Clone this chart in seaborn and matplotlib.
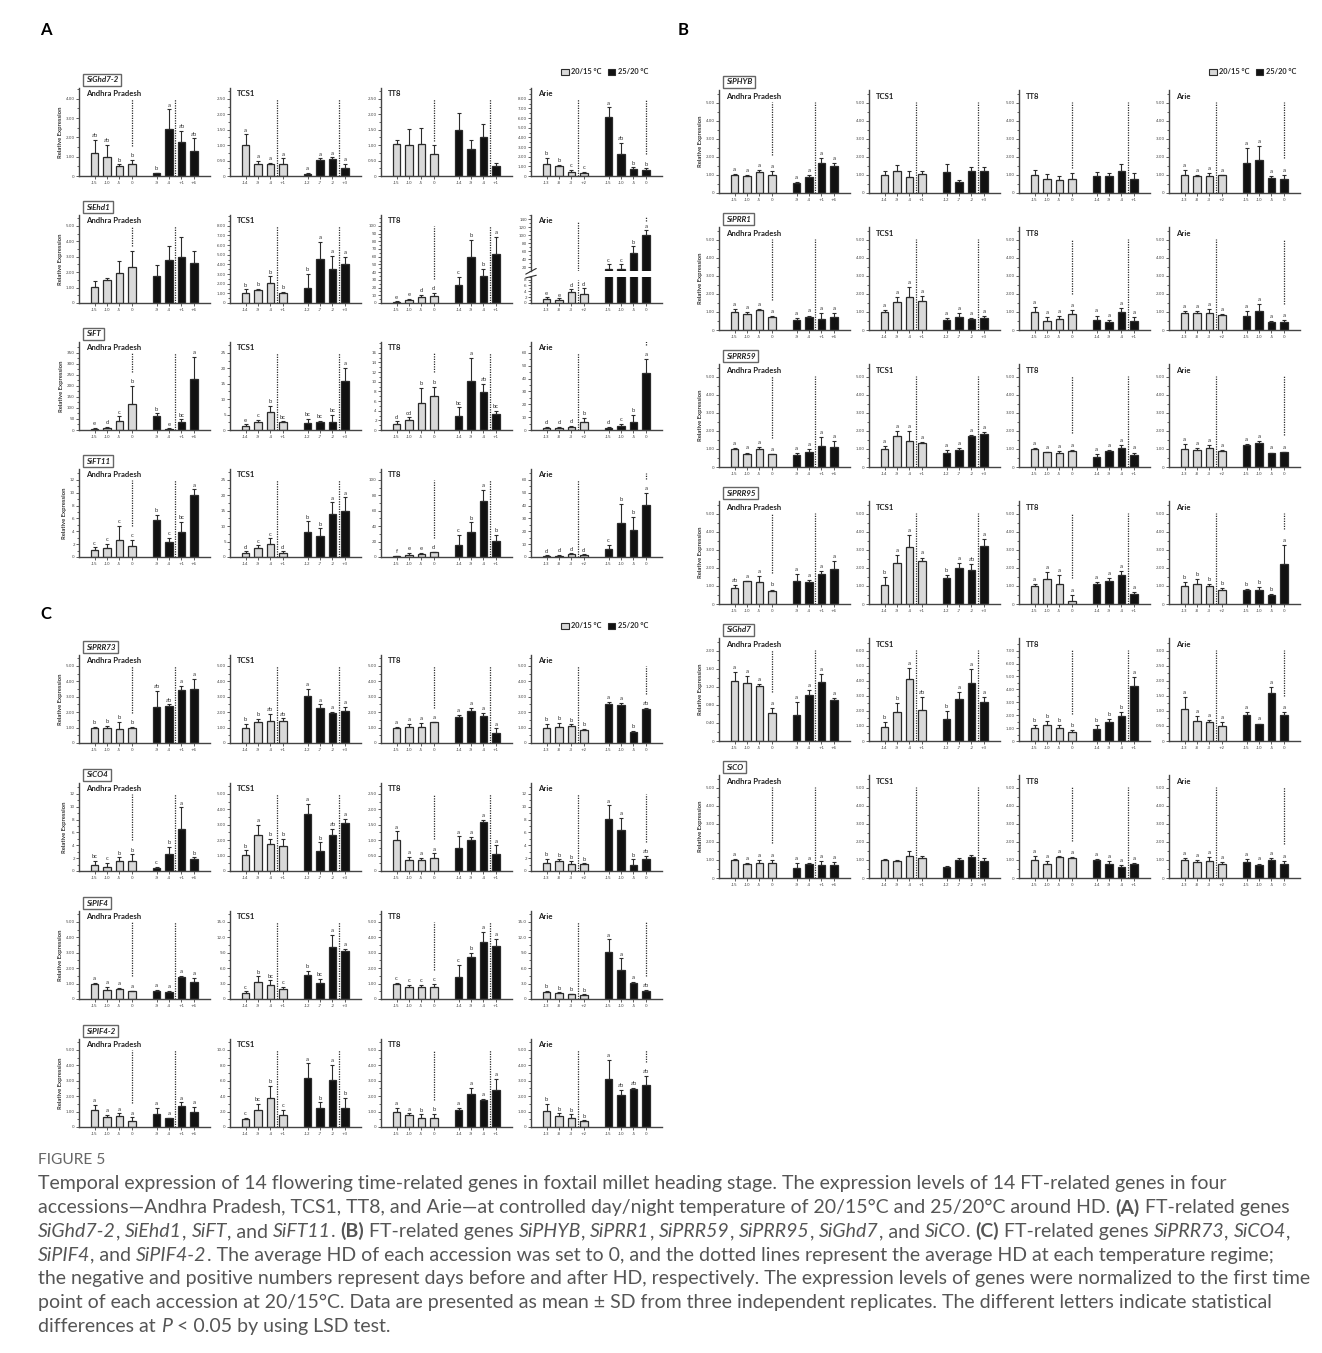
import numpy as np
import pandas as pd
import matplotlib.pyplot as plt
import seaborn as sns
from matplotlib.patches import Patch
from matplotlib.ticker import AutoMinorLocator

# ---------------- data ----------------
LOW, HIGH = "20/15 °C", "25/20 °C"
ACCESSIONS = ["Andhra Pradesh", "TCS1", "TT8", "Arie"]
AP_DAYS = ["-15", "-10", "-5", "0", "-9", "-4", "+1", "+6"]
TCS1_DAYS = ["-14", "-9", "-4", "+1", "-12", "-7", "-2", "+3"]
TT8_DAYS = ["-15", "-10", "-5", "0", "-14", "-9", "-4", "+1"]
ARIE_DAYS = ["-13", "-8", "-3", "+2", "-15", "-10", "-5", "0"]
DAYS = [AP_DAYS, TCS1_DAYS, TT8_DAYS, ARIE_DAYS]

NOSIG = [""] * 8
ALL_A = ["a"] * 8

# each gene: mean, top of error bar (mean + SD), letters; rows = AP, TCS1, TT8, Arie
# axis = (highest tick, tick step, decimals)
ghd72_mean = [[1.18, 0.98, 0.50, 0.60, 0.13, 2.45, 1.75, 1.30],
              [1.00, 0.38, 0.38, 0.38, 0.06, 0.53, 0.55, 0.27],
              [1.04, 1.00, 1.05, 0.70, 1.48, 0.88, 1.27, 0.33],
              [1.20, 1.05, 0.45, 0.35, 6.15, 2.25, 0.70, 0.58]]
ghd72_top = [[1.88, 1.60, 0.60, 0.85, 0.18, 3.45, 2.32, 1.95],
             [1.35, 0.50, 0.42, 0.57, 0.10, 0.57, 0.60, 0.40],
             [1.18, 1.53, 1.57, 1.00, 2.05, 1.15, 1.67, 0.43],
             [1.90, 1.15, 0.60, 0.45, 7.10, 3.40, 0.90, 0.80]]
ghd72_sig = [["ab", "ab", "b", "b", "b", "a", "ab", "ab"], ALL_A, NOSIG,
             ["b", "b", "c", "c", "a", "ab", "b", "b"]]
ghd72_axis = [(4, 1, 2), (2.5, 0.5, 2), (2.5, 0.5, 2), (8, 1, 2)]

ehd1_mean = [[1.05, 1.52, 1.95, 2.35, 1.72, 2.80, 3.00, 2.60],
             [1.00, 1.30, 2.05, 1.00, 1.60, 4.60, 3.55, 4.05],
             [1.0, 3.5, 7.5, 8.5, 23, 60, 35.5, 64],
             [1.3, 1.1, 3.6, 3.2, 17, 17, 57, 102]]
ehd1_top = [[1.40, 1.60, 2.70, 3.40, 2.45, 3.72, 4.25, 3.35],
            [1.40, 1.45, 2.75, 1.15, 3.05, 6.30, 4.90, 4.75],
            [2, 5, 11, 13, 34, 82, 44, 86],
            [2.2, 1.6, 4.8, 5.2, 28, 28, 74, 114]]
ehd1_sig = [NOSIG, ["b", "b", "b", "b", "b", "a", "a", "a"],
            ["e", "e", "d", "d", "c", "b", "b", "a"],
            ["e", "e", "d", "d", "c", "c", "b", "a"]]
ehd1_axis = [(5, 1, 2), (8, 1, 2), (100, 10, 0), (140, 20, 0)]
ehd1_arie_lower = (8, 2, 0)

ft_mean = [[5, 8, 43, 117, 63, 5, 37, 230],
           [1.2, 2.5, 5.8, 2.5, 2.3, 2.7, 2.7, 16],
           [1.2, 2.1, 5.5, 7.0, 3.0, 10.2, 7.8, 3.4],
           [1.5, 1.5, 2.5, 6, 1.5, 3, 6, 44]]
ft_top = [[8, 13, 62, 200, 75, 7, 48, 330],
          [1.8, 3.2, 7.8, 2.8, 3.6, 3.0, 4.8, 20],
          [1.8, 2.6, 8.8, 9.0, 4.7, 15, 9.5, 4.0],
          [2.2, 2.2, 3, 9.5, 2.2, 5, 12, 55]]
ft_sig = [["e", "d", "c", "b", "b", "e", "bc", "a"],
          ["e", "c", "b", "bc", "bc", "bc", "bc", "a"],
          ["d", "cd", "b", "b", "bc", "a", "ab", "bc"],
          ["d", "d", "d", "b", "d", "c", "b", "a"]]
ft_axis = [(350, 50, 0), (25, 5, 0), (16, 2, 0), (60, 10, 0)]

ft11_mean = [[1.05, 1.4, 2.7, 1.7, 5.8, 2.35, 3.9, 9.6],
             [1.2, 3.0, 4.2, 1.3, 8.2, 6.7, 14, 15],
             [1, 3, 4, 6, 16, 33, 73, 21],
             [1, 1, 2, 1.5, 6.3, 26.5, 20.8, 40.5]]
ft11_top = [[1.5, 2.0, 4.8, 2.7, 6.5, 3.0, 5.5, 10.5],
            [1.8, 3.8, 6.0, 1.8, 11.5, 9.3, 17.7, 19.3],
            [1.5, 5, 5, 6.5, 29, 45, 87, 29],
            [1.3, 1.5, 2.8, 2, 9.6, 41.5, 31, 50]]
ft11_sig = [["c", "c", "c", "c", "b", "c", "bc", "a"],
            ["d", "c", "c", "d", "b", "b", "a", "a"],
            ["f", "e", "e", "d", "c", "b", "a", "b"],
            ["d", "d", "d", "d", "c", "b", "b", "a"]]
ft11_axis = [(12, 2, 0), (25, 5, 0), (100, 20, 0), (60, 10, 0)]

phyb_mean = [[1.0, 0.93, 1.17, 1.02, 0.58, 0.9, 1.67, 1.48],
             [1.02, 1.22, 0.9, 1.07, 1.15, 0.62, 1.2, 1.2],
             [0.98, 0.8, 0.72, 0.8, 0.95, 0.93, 1.23, 0.8],
             [1.02, 0.92, 0.95, 0.97, 1.68, 1.8, 0.85, 0.78]]
phyb_top = [[1.05, 1.0, 1.25, 1.2, 0.62, 1.02, 1.95, 1.65],
            [1.2, 1.55, 1.2, 1.2, 1.6, 0.7, 1.42, 1.43],
            [1.25, 1.05, 0.93, 1.1, 1.17, 1.08, 1.62, 1.1],
            [1.28, 1.0, 1.08, 1.0, 2.5, 2.62, 0.95, 1.0]]
phyb_sig = [ALL_A, NOSIG, NOSIG, ALL_A]
phyb_axis = [(5, 1, 2)] * 4

prr1_mean = [[1.0, 0.88, 1.08, 0.7, 0.58, 0.72, 0.6, 0.73],
             [1.0, 1.55, 1.82, 1.6, 0.58, 0.73, 0.6, 0.65],
             [1.0, 0.5, 0.6, 0.9, 0.55, 0.47, 1.0, 0.52],
             [0.95, 0.92, 0.95, 0.82, 0.78, 1.05, 0.47, 0.45]]
prr1_top = [[1.15, 1.0, 1.15, 0.75, 0.65, 0.8, 0.95, 0.95],
            [1.12, 1.83, 2.4, 1.88, 0.65, 0.93, 0.65, 0.75],
            [1.28, 0.7, 0.75, 1.1, 0.8, 0.55, 1.22, 0.7],
            [1.07, 1.05, 1.15, 0.88, 1.05, 1.45, 0.5, 0.55]]
prr1_sig = [ALL_A, ALL_A, ALL_A, ALL_A]
prr1_axis = [(5, 1, 2)] * 4

prr59_mean = [[1.0, 0.72, 0.98, 0.7, 0.67, 0.85, 1.18, 1.1],
              [1.0, 1.72, 1.45, 1.35, 0.75, 0.92, 1.7, 1.8],
              [1.0, 0.82, 0.8, 0.9, 0.58, 0.9, 1.05, 0.65],
              [1.0, 0.95, 1.05, 0.9, 1.2, 1.35, 0.75, 0.82]]
prr59_top = [[1.03, 0.8, 1.12, 0.72, 0.77, 0.98, 1.65, 1.45],
             [1.15, 1.98, 2.0, 1.4, 0.93, 1.05, 1.78, 1.92],
             [1.03, 0.85, 0.88, 0.95, 0.7, 0.93, 1.2, 0.8],
             [1.27, 1.03, 1.2, 0.95, 1.28, 1.45, 0.8, 0.85]]
prr59_sig = [ALL_A, ALL_A, ALL_A, ALL_A]
prr59_axis = [(5, 1, 2)] * 4

prr95_mean = [[0.9, 1.25, 1.22, 0.7, 1.27, 1.22, 1.65, 1.92],
              [1.07, 2.27, 3.15, 2.38, 1.42, 2.0, 1.88, 3.2],
              [1.0, 1.4, 1.13, 0.15, 1.08, 1.3, 1.6, 0.55],
              [1.0, 1.1, 1.0, 0.77, 0.77, 0.8, 0.48, 2.22]]
prr95_top = [[1.07, 1.28, 1.55, 0.8, 1.68, 1.35, 1.8, 2.38],
             [1.48, 2.72, 3.8, 2.57, 1.6, 2.28, 2.22, 3.62],
             [1.08, 1.75, 1.58, 0.52, 1.2, 1.42, 1.85, 0.68],
             [1.2, 1.4, 1.12, 0.9, 0.85, 0.95, 0.57, 3.25]]
prr95_sig = [["ab", "a", "a", "b", "a", "a", "a", "a"],
             ["b", "a", "a", "a", "b", "a", "ab", "a"],
             ALL_A,
             ["b", "b", "b", "b", "b", "b", "b", "a"]]
prr95_axis = [(5, 1, 2)] * 4

ghd7_mean = [[1.33, 1.28, 1.21, 0.62, 0.58, 1.02, 1.3, 0.91],
             [0.95, 1.92, 4.15, 2.05, 1.45, 2.8, 3.87, 2.6],
             [1.0, 1.22, 0.97, 0.7, 0.95, 1.48, 1.95, 4.27],
             [1.05, 0.67, 0.63, 0.5, 0.85, 0.57, 1.6, 0.87]]
ghd7_top = [[1.52, 1.44, 1.27, 0.72, 0.86, 1.12, 1.48, 0.95],
            [1.25, 2.55, 4.85, 2.92, 2.02, 3.25, 4.8, 2.95],
            [1.25, 1.52, 1.22, 0.85, 1.25, 1.72, 2.25, 4.98],
            [1.45, 0.82, 0.7, 0.62, 0.95, 0.58, 1.78, 0.95]]
ghd7_sig = [ALL_A,
            ["b", "b", "a", "ab", "b", "a", "a", "a"],
            ["b", "b", "b", "b", "b", "b", "b", "a"],
            ALL_A]
ghd7_axis = [(2.0, 0.4, 2), (6, 1, 2), (7, 1, 2), (3, 0.5, 2)]

co_mean = [[1.0, 0.75, 0.85, 0.85, 0.55, 0.75, 0.72, 0.7],
           [1.02, 0.95, 1.2, 1.1, 0.6, 1.02, 1.15, 0.95],
           [1.0, 0.78, 1.15, 1.1, 1.0, 0.8, 0.62, 0.78],
           [1.0, 0.88, 0.92, 0.8, 0.9, 0.72, 1.0, 0.75]]
co_top = [[1.05, 0.82, 1.0, 1.0, 0.85, 0.85, 0.95, 0.9],
          [1.05, 1.0, 1.5, 1.2, 0.65, 1.08, 1.25, 1.1],
          [1.2, 0.95, 1.2, 1.15, 1.05, 0.95, 0.7, 0.85],
          [1.1, 0.98, 1.15, 0.88, 1.05, 0.8, 1.1, 0.95]]
co_sig = [ALL_A, NOSIG, ALL_A, ALL_A]
co_axis = [(5, 1, 2)] * 4

prr73_mean = [[1.0, 1.0, 0.88, 0.95, 2.32, 2.4, 3.42, 3.48],
              [1.0, 1.33, 1.45, 1.4, 3.03, 2.27, 1.92, 2.1],
              [1.0, 1.03, 1.05, 1.33, 1.68, 2.1, 1.72, 0.62],
              [1.0, 1.05, 1.08, 0.85, 2.5, 2.48, 0.73, 2.22]]
prr73_top = [[1.05, 1.1, 1.35, 1.05, 3.38, 2.5, 3.7, 4.15],
             [1.22, 1.55, 1.9, 1.6, 3.5, 2.5, 2.0, 2.35],
             [1.02, 1.22, 1.3, 1.38, 1.83, 2.28, 1.95, 0.95],
             [1.25, 1.3, 1.2, 0.9, 2.68, 2.6, 0.78, 2.28]]
prr73_sig = [["b", "b", "b", "b", "ab", "ab", "a", "a"],
             ["b", "b", "ab", "ab", "a", "a", "a", "a"],
             ALL_A,
             ["b", "b", "b", "b", "a", "a", "b", "ab"]]
prr73_axis = [(5, 1, 2)] * 4

co4_mean = [[0.9, 0.65, 1.55, 1.6, 0.42, 2.65, 6.6, 1.8],
            [1.05, 2.35, 1.72, 1.62, 3.7, 1.32, 2.33, 3.1],
            [1.02, 0.37, 0.37, 0.42, 0.75, 1.0, 1.6, 0.55],
            [1.3, 1.6, 1.05, 1.05, 8.1, 6.3, 0.9, 1.85]]
co4_top = [[1.6, 1.3, 2.1, 2.6, 0.6, 3.7, 9.9, 2.1],
           [1.33, 3.0, 2.1, 2.1, 4.35, 1.85, 2.75, 3.38],
           [1.28, 0.45, 0.43, 0.57, 1.12, 1.1, 1.65, 0.83],
           [1.9, 1.8, 1.5, 1.2, 10.2, 8.3, 1.8, 2.3]]
co4_sig = [["bc", "c", "b", "b", "c", "b", "a", "b"],
           ["b", "a", "b", "b", "a", "b", "ab", "a"],
           ALL_A,
           ["b", "b", "b", "b", "a", "a", "b", "ab"]]
co4_axis = [(12, 2, 0), (5, 1, 2), (2.5, 0.5, 2), (12, 2, 0)]

pif4_mean = [[1.0, 0.6, 0.63, 0.5, 0.52, 0.48, 1.45, 1.07],
             [1.1, 3.3, 2.8, 2.0, 4.6, 3.2, 10.1, 9.4],
             [1.0, 0.8, 0.78, 0.78, 1.4, 2.7, 3.7, 3.45],
             [1.4, 1.1, 0.9, 0.8, 9.2, 5.6, 3.2, 1.6]]
pif4_top = [[1.05, 0.78, 0.72, 0.55, 0.58, 0.55, 1.5, 1.38],
            [1.5, 4.4, 3.6, 2.4, 5.5, 3.9, 12.4, 9.7],
            [1.02, 0.9, 0.9, 0.97, 2.2, 3.0, 4.35, 3.9],
            [1.6, 1.3, 1.0, 0.9, 11.6, 7.9, 3.4, 1.7]]
pif4_sig = [ALL_A,
            ["c", "b", "bc", "c", "b", "bc", "a", "a"],
            ["c", "c", "c", "c", "c", "b", "a", "a"],
            ["b", "b", "b", "b", "a", "a", "a", "ab"]]
pif4_axis = [(5, 1, 2), (15, 3, 1), (5, 1, 2), (15, 3, 1)]

pif42_mean = [[1.1, 0.62, 0.72, 0.42, 0.83, 0.57, 1.35, 1.0],
              [1.1, 2.2, 3.8, 1.55, 6.3, 2.5, 6.1, 2.45],
              [1.0, 0.8, 0.6, 0.58, 1.12, 2.15, 1.73, 2.42],
              [1.05, 0.72, 0.6, 0.38, 3.1, 2.05, 2.45, 2.7]]
pif42_top = [[1.43, 0.78, 0.88, 0.62, 1.25, 0.58, 1.6, 1.3],
             [1.2, 3.0, 5.3, 2.2, 8.25, 3.2, 8.0, 3.75],
             [1.23, 0.88, 0.82, 0.83, 1.25, 2.55, 1.8, 3.1],
             [1.48, 0.88, 0.82, 0.43, 4.35, 2.4, 2.55, 3.3]]
pif42_sig = [ALL_A,
             ["c", "bc", "b", "c", "a", "b", "a", "b"],
             ["a", "a", "b", "b", "a", "a", "a", "a"],
             ["b", "b", "b", "b", "a", "ab", "ab", "ab"]]
pif42_axis = [(5, 1, 2), (10, 2, 1), (5, 1, 2), (5, 1, 2)]

# ---------------- layout (pixels of the 1322 x 1353 image) ----------------
W, H = 1322, 1353
PALETTE = {LOW: "#d9d9d9", HIGH: "#111111"}
SLOTS = ["L0", "L1", "L2", "L3", "gap", "H0", "H1", "H2", "H3"]
XS = [0, 1, 2, 3, 5, 6, 7, 8]
INK = "#2b2b2b"
TICK_FONT = "DejaVu Sans"

sns.set_theme(style="ticks")
plt.rcParams["font.family"] = ["Lato", "DejaVu Sans"]

fig = plt.figure(figsize=(W / 100, H / 100), dpi=100)


def add_ax(left, bottom, width, height):
    return fig.add_axes([left / W, 1 - bottom / H, width / W, height / H])


def draw_bars(ax, mean, top, sig, lo, hi):
    df = pd.DataFrame({"slot": SLOTS[:4] + SLOTS[5:], "value": mean,
                       "regime": [LOW] * 4 + [HIGH] * 4})
    sns.barplot(data=df, x="slot", y="value", hue="regime", order=SLOTS,
                hue_order=[LOW, HIGH], palette=PALETTE, dodge=False, width=0.62,
                edgecolor=INK, linewidth=0.9, errorbar=None, legend=False, ax=ax)
    mean = np.array(mean, float)
    top = np.array(top, float)
    ax.errorbar(XS, mean, yerr=[np.zeros(8), top - mean], fmt="none",
                ecolor=INK, elinewidth=0.8, capsize=1.6, capthick=0.8)
    for x, t, s in zip(XS, top, sig):
        yy = t + 0.02 * (hi - lo)
        if s and lo <= yy <= hi:
            ax.text(x, yy, s, ha="center", va="bottom", fontsize=4.3, color="#333333")
    ax.set_ylim(lo, hi)
    ax.set_xlim(-1.25, 9.3)
    ax.set_xlabel("")
    ax.set_ylabel("")


def style_y(ax, ymax, step, dec, start=0):
    ticks = np.arange(start, ymax + step / 2, step)
    ax.set_yticks(ticks)
    ax.set_yticklabels(["0" if v == 0 else f"{v:.{dec}f}" for v in ticks],
                       fontfamily=TICK_FONT)
    ax.yaxis.set_minor_locator(AutoMinorLocator(2))
    ax.tick_params(axis="y", labelsize=3.0, length=2, width=0.6, pad=1, colors="#444444")
    ax.tick_params(axis="y", which="minor", length=1.2, width=0.5)
    for s in ["top", "right"]:
        ax.spines[s].set_visible(False)
    for s in ["left", "bottom"]:
        ax.spines[s].set_linewidth(1.0)
        ax.spines[s].set_color("#444444")


def style_x(ax, days):
    ax.set_xticks(XS)
    ax.set_xticklabels(days, fontfamily=TICK_FONT)
    ax.tick_params(axis="x", labelsize=3.0, length=2, width=0.6, pad=1.5, colors="#444444")


def hd_lines(ax, days, top, sig, lo, hi, full_from=0):
    line_top = lo + 0.88 * (hi - lo)
    for part in (slice(0, 4), slice(4, 8)):
        d = [int(v) for v in days[part]]
        xs = XS[part]
        tp = top[part]
        sg = sig[part]
        if 0 in d:
            i = d.index(0)
            y0 = tp[i] + (0.16 if sg[i] else 0.05) * (hi - lo)
            y1 = max(line_top, y0 + 0.06 * (hi - lo))
            ax.plot([xs[i], xs[i]], [y0, y1], ls=(0, (1, 1)), color=INK, lw=0.9)
        else:
            i = next(k for k in range(3) if d[k] < 0 < d[k + 1])
            xm = (xs[i] + xs[i + 1]) / 2
            ax.plot([xm, xm], [max(full_from, lo), line_top], ls=(0, (1, 1)),
                    color=INK, lw=0.9)


def title(ax, name, y=0.94):
    ax.text(0.05, y, name, transform=ax.transAxes, ha="left", va="center",
            fontsize=5.6, fontweight="bold", color="#222222")


def gene_label(name, left, top):
    fig.text((left + 7) / W, 1 - (top - 8) / H, name, ha="left", va="center",
             fontsize=5.8, fontweight="bold", fontstyle="italic", color="#222222",
             bbox=dict(boxstyle="square,pad=0.35", fc="white", ec="#666666", lw=1.0))


def panel_row(gene, mean, top, sig, axis, lefts, bottom, width, height,
              broken_arie=False):
    gene_label(gene, lefts[0], bottom - height)
    for j, acc in enumerate(ACCESSIONS):
        ymax, step, dec = axis[j]
        if broken_arie and j == 3:
            lo_h = height * 0.30
            up_h = height * 0.64
            ax_lo = add_ax(lefts[j], bottom, width, lo_h)
            ax_up = add_ax(lefts[j], bottom - height + up_h, width, up_h)
            lmax, lstep, ldec = ehd1_arie_lower
            draw_bars(ax_lo, mean[j], top[j], sig[j], 0, 9)
            draw_bars(ax_up, mean[j], top[j], sig[j], 10, ymax * 1.08)
            style_y(ax_lo, lmax, lstep, ldec)
            style_y(ax_up, ymax, step, dec, start=step)
            style_x(ax_lo, DAYS[j])
            ax_up.spines["bottom"].set_visible(False)
            ax_up.set_xticks([])
            hd_lines(ax_lo, DAYS[j], top[j], sig[j], 0, 9)
            hd_lines(ax_up, DAYS[j], top[j], sig[j], 10, ymax * 1.08, full_from=10)
            title(ax_up, acc, y=0.91)
            for a, yb in ((ax_lo, 1.0), (ax_up, 0.0)):
                a.plot([-0.04, 0.04], [yb - 0.05, yb + 0.05], transform=a.transAxes,
                       color=INK, lw=0.8, clip_on=False)
            continue
        ax = add_ax(lefts[j], bottom, width, height)
        hi = ymax * 1.14
        draw_bars(ax, mean[j], top[j], sig[j], 0, hi)
        style_y(ax, ymax, step, dec)
        style_x(ax, DAYS[j])
        hd_lines(ax, DAYS[j], top[j], sig[j], 0, hi)
        title(ax, acc)
        if j == 0:
            ax.set_ylabel("Relative Expression", fontsize=4.2, fontweight="bold",
                          color="#333333", labelpad=2)


def add_legend(x_right, y):
    handles = [Patch(fc=PALETTE[LOW], ec=INK, lw=0.8, label=LOW),
               Patch(fc=PALETTE[HIGH], ec=INK, lw=0.8, label=HIGH)]
    fig.legend(handles=handles, loc="center right", bbox_to_anchor=(x_right / W, 1 - y / H),
               ncol=2, frameon=False, prop={"size": 5.3, "weight": "bold"},
               handlelength=1.0, handleheight=1.0, handletextpad=0.3,
               columnspacing=0.9, borderaxespad=0, borderpad=0)


# panel A
A_LEFTS = [79, 230, 381, 531]
A_BOTTOMS = [176, 303, 430, 557]
panel_row("SiGhd7-2", ghd72_mean, ghd72_top, ghd72_sig, ghd72_axis, A_LEFTS, A_BOTTOMS[0], 131, 88)
panel_row("SiEhd1", ehd1_mean, ehd1_top, ehd1_sig, ehd1_axis, A_LEFTS, A_BOTTOMS[1], 131, 88,
          broken_arie=True)
panel_row("SiFT", ft_mean, ft_top, ft_sig, ft_axis, A_LEFTS, A_BOTTOMS[2], 131, 88)
panel_row("SiFT11", ft11_mean, ft11_top, ft11_sig, ft11_axis, A_LEFTS, A_BOTTOMS[3], 131, 88)

# panel C
C_BOTTOMS = [743, 871, 999, 1127]
panel_row("SiPRR73", prr73_mean, prr73_top, prr73_sig, prr73_axis, A_LEFTS, C_BOTTOMS[0], 131, 88)
panel_row("SiCO4", co4_mean, co4_top, co4_sig, co4_axis, A_LEFTS, C_BOTTOMS[1], 131, 88)
panel_row("SiPIF4", pif4_mean, pif4_top, pif4_sig, pif4_axis, A_LEFTS, C_BOTTOMS[2], 131, 88)
panel_row("SiPIF4-2", pif42_mean, pif42_top, pif42_sig, pif42_axis, A_LEFTS, C_BOTTOMS[3], 131, 88)

# panel B
B_LEFTS = [719, 869, 1019, 1169]
B_BOTTOMS = [193, 330, 467, 604, 741, 878]
panel_row("SiPHYB", phyb_mean, phyb_top, phyb_sig, phyb_axis, B_LEFTS, B_BOTTOMS[0], 131, 103)
panel_row("SiPRR1", prr1_mean, prr1_top, prr1_sig, prr1_axis, B_LEFTS, B_BOTTOMS[1], 131, 103)
panel_row("SiPRR59", prr59_mean, prr59_top, prr59_sig, prr59_axis, B_LEFTS, B_BOTTOMS[2], 131, 103)
panel_row("SiPRR95", prr95_mean, prr95_top, prr95_sig, prr95_axis, B_LEFTS, B_BOTTOMS[3], 131, 103)
panel_row("SiGhd7", ghd7_mean, ghd7_top, ghd7_sig, ghd7_axis, B_LEFTS, B_BOTTOMS[4], 131, 103)
panel_row("SiCO", co_mean, co_top, co_sig, co_axis, B_LEFTS, B_BOTTOMS[5], 131, 103)

add_legend(648, 72)
add_legend(1296, 72)
add_legend(648, 626)

for letter, x, y in (("A", 40, 30), ("B", 678, 30), ("C", 40, 614)):
    fig.text(x / W, 1 - y / H, letter, fontsize=12, fontweight="bold", ha="left",
             va="center", color="black")

# ---------------- caption ----------------
renderer = fig.canvas.get_renderer()
CAP_COLOR = "#555555"


def run_kw(size, style):
    return dict(fontsize=size, fontstyle="italic" if "i" in style else "normal",
                fontweight="bold" if "b" in style else "normal")


def run_width(s, size, style):
    t1 = fig.text(0, 0, "|" + s + "|", **run_kw(size, style))
    t0 = fig.text(0, 0, "||", **run_kw(size, style))
    w = t1.get_window_extent(renderer).width - t0.get_window_extent(renderer).width
    t1.remove()
    t0.remove()
    return w


def draw_runs(runs, x, y, size):
    for s, style in runs:
        fig.text(x / W, 1 - y / H, s, color=CAP_COLOR, va="center", ha="left",
                 **run_kw(size, style))
        x += run_width(s, size, style)


caption = [
    [("Temporal expression of 14 flowering time-related genes in foxtail millet heading stage. "
      "The expression levels of 14 FT-related genes in four", "n")],
    [("accessions—Andhra Pradesh, TCS1, TT8, and Arie—at controlled day/night temperature of "
      "20/15°C and 25/20°C around HD. ", "n"), ("(A)", "b"), (" FT-related genes", "n")],
    [("SiGhd7-2", "i"), (", ", "n"), ("SiEhd1", "i"), (", ", "n"), ("SiFT", "i"), (", and ", "n"),
     ("SiFT11", "i"), (". ", "n"), ("(B)", "b"), (" FT-related genes ", "n"), ("SiPHYB", "i"),
     (", ", "n"), ("SiPRR1", "i"), (", ", "n"), ("SiPRR59", "i"), (", ", "n"), ("SiPRR95", "i"),
     (", ", "n"), ("SiGhd7", "i"), (", and ", "n"), ("SiCO", "i"), (". ", "n"), ("(C)", "b"),
     (" FT-related genes ", "n"), ("SiPRR73", "i"), (", ", "n"), ("SiCO4", "i"), (",", "n")],
    [("SiPIF4", "i"), (", and ", "n"), ("SiPIF4-2", "i"),
     (". The average HD of each accession was set to 0, and the dotted lines represent the "
      "average HD at each temperature regime;", "n")],
    [("the negative and positive numbers represent days before and after HD, respectively. "
      "The expression levels of genes were normalized to the first time", "n")],
    [("point of each accession at 20/15°C. Data are presented as mean ± SD from three "
      "independent replicates. The different letters indicate statistical", "n")],
    [("differences at ", "n"), ("P", "i"), (" < 0.05 by using LSD test.", "n")],
]

base = 12
w_long = sum(run_width(s, base, st) for s, st in caption[4])
cap_size = base * (1305 - 38) / w_long

fig.text(38 / W, 1 - 1160 / H, "FIGURE 5", fontsize=cap_size * 0.8, color="#666666",
         va="center", ha="left")
for k, runs in enumerate(caption):
    draw_runs(runs, 38, 1184 + 23.7 * k, cap_size)

fig.savefig("out.png", dpi=100)
